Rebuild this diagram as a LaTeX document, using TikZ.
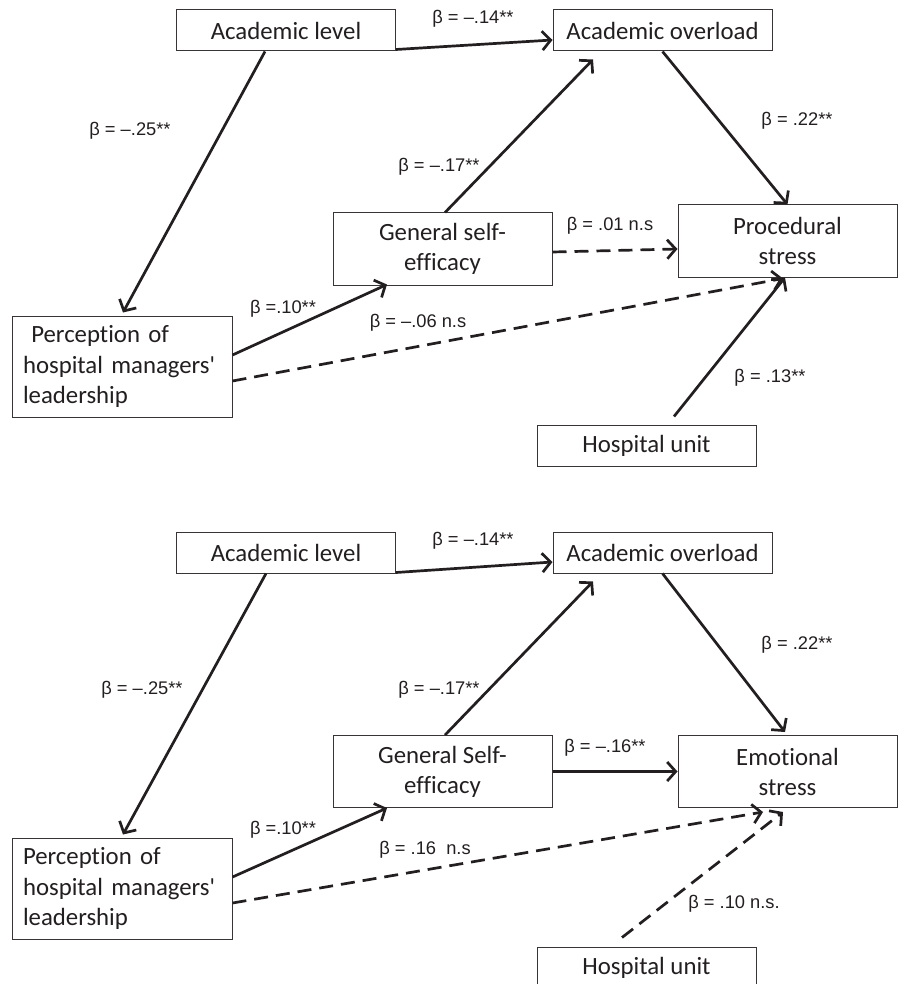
\documentclass[tikz,border=0pt]{standalone}
\usepackage{fontspec}
\setmainfont{Carlito}[Ligatures={TeX,CommonOff}]
\newfontfamily\labfont{Liberation Sans}
\usetikzlibrary{arrows.meta}
\definecolor{ink}{HTML}{231F20}
\begin{document}
\begin{tikzpicture}[x=1pt,y=-1pt,
  box/.style={draw=ink!90, line width=1pt, fill=white, inner sep=0pt, align=center,
    text=ink, font=\fontsize{24.8}{30}\selectfont, minimum width=219pt},
  onebox/.style={box, minimum height=41pt},
  twobox/.style={box, minimum height=72pt},
  leftbox/.style={draw=ink!90, line width=1pt, fill=white, inner xsep=11pt, inner ysep=0pt,
    text width=198pt, align=left, minimum height=101pt, text=ink,
    font=\fontsize{24.8}{30.5}\selectfont},
  arr/.style={draw=ink, line width=2.7pt, -{Straight Barb[length=8.5pt,width=19pt]}},
  dsh/.style={arr, dash pattern=on 14pt off 8pt},
  lab/.style={font=\labfont\fontsize{18.3}{20}\selectfont, text=ink, inner sep=0pt}
]
\useasboundingbox (0,0) rectangle (898,984);
\clip (0,0) rectangle (898,984);
\fill[white] (0,0) rectangle (898,984);

% ---------- top diagram ----------
\node[onebox] (al1) at (286,30.5) {Academic level};
\node[onebox] (ao1) at (662.5,30.5) {Academic overload};
\node[twobox] (gse1) at (442.5,249) {General self-\\efficacy};
\node[twobox] (ps1) at (787.5,241) {Procedural\\stress};
\node[leftbox] (pl1) at (122,366.5) {\ Perception of\\hospital managers\textquotesingle\\leadership};
\node[onebox] (hu1) at (646.5,445.5) {Hospital unit};

\draw[arr] ([yshift=2pt]al1.south east) -- ([yshift=-9.5pt]ao1.west);
\draw[arr] ([xshift=-21pt]al1.south) -- ([xshift=1pt,yshift=3pt]pl1.north);
\draw[arr] ([yshift=11.5pt]pl1.east) -- ([xshift=-55.5pt,yshift=1pt]gse1.south);
\draw[dsh] ([yshift=-14.5pt]pl1.east) -- ([xshift=-4.5pt,yshift=-1pt]ps1.south);
\draw[arr] ([xshift=2.5pt]gse1.north) -- ([xshift=-69.5pt,yshift=-8pt]ao1.south);
\draw[dsh] ([yshift=-3pt]gse1.east) -- ([yshift=-8pt]ps1.west);
\draw[arr] (ao1.south) -- (ps1.north);
\draw[arr] ([xshift=27.5pt,yshift=8pt]hu1.north) -- ([xshift=-2.5pt]ps1.south);

\node[lab] (l1a) at (473,19) {β = –.14**};
\node[lab] (l1b) at (130,131) {β = –.25**};
\node[lab] (l1c) at (283,309) {β =.10**};
\node[lab] (l1d) at (418,323) {β = –.06 n.s};
\node[lab] (l1e) at (439,167) {β = –.17**};
\node[lab] (l1f) at (610,226) {β = .01 n.s};
\node[lab] (l1g) at (797,121) {β = .22**};
\node[lab] (l1h) at (770,378) {β = .13**};

% ---------- bottom diagram ----------
\node[onebox] (al2) at (286,552.5) {Academic level};
\node[onebox] (ao2) at (662.5,552.5) {Academic overload};
\node[twobox] (gse2) at (442.5,771.5) {General Self-\\efficacy};
\node[twobox] (es2) at (787.5,771.5) {Emotional\\stress};
\node[leftbox] (pl2) at (122,888.5) {Perception of\\hospital managers\textquotesingle\\leadership};
\node[onebox] (hu2) at (646.5,967.5) {Hospital unit};

\draw[arr] ([yshift=1pt]al2.south east) -- ([yshift=-9.5pt]ao2.west);
\draw[arr] ([xshift=-20pt]al2.south) -- ([xshift=1pt,yshift=3pt]pl2.north);
\draw[arr] ([yshift=11.5pt]pl2.east) -- ([xshift=-55.5pt]gse2.south);
\draw[dsh] ([yshift=-14.5pt]pl2.east) -- ([xshift=-24.5pt,yshift=-4pt]es2.south);
\draw[arr] ([xshift=2.5pt]gse2.north) -- ([xshift=-69.5pt,yshift=-8pt]ao2.south);
\draw[arr] (gse2.east) -- (es2.west);
\draw[arr] (ao2.south) -- ([xshift=-2.5pt,yshift=3pt]es2.north);
\draw[dsh] ([xshift=-24.5pt,yshift=9pt]hu2.north) -- ([xshift=-4.5pt,yshift=-4pt]es2.south);

\node[lab] (l2a) at (473,541) {β = –.14**};
\node[lab] (l2b) at (142,690) {β = –.25**};
\node[lab] (l2c) at (283,830) {β =.10**};
\node[lab] (l2d) at (425,850) {β = .16\ \ n.s};
\node[lab] (l2e) at (439,690) {β = –.17**};
\node[lab] (l2f) at (605,748) {β = –.16**};
\node[lab] (l2g) at (797,645) {β = .22**};
\node[lab] (l2h) at (734,904) {β = .10 n.s.};
\end{tikzpicture}
\end{document}
